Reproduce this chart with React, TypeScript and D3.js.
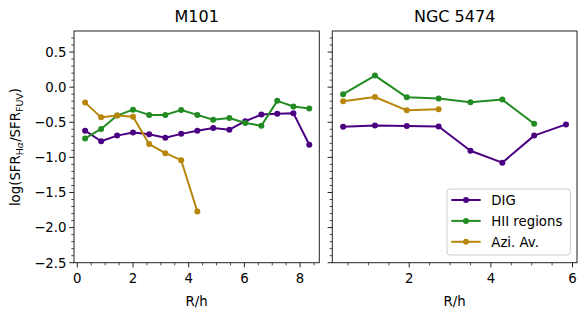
import * as d3 from "d3";
import React from "react";

// M101 (left panel)
const m101R = [0.28, 0.855, 1.43, 2.0, 2.58, 3.16, 3.73, 4.31, 4.88, 5.46, 6.03, 6.61, 7.18, 7.76, 8.33];
const m101Dig = [-0.62, -0.77, -0.69, -0.645, -0.67, -0.72, -0.665, -0.62, -0.58, -0.605, -0.485, -0.39, -0.38, -0.37, -0.82];
const m101Hii = [-0.73, -0.595, -0.405, -0.32, -0.395, -0.395, -0.325, -0.395, -0.465, -0.44, -0.51, -0.55, -0.195, -0.275, -0.305];
const m101Azi = [-0.22, -0.43, -0.405, -0.42, -0.81, -0.94, -1.04, -1.77];

// NGC 5474 (right panel)
const ngcR = [0.38, 1.16, 1.94, 2.72, 3.5, 4.28, 5.06, 5.84];
const ngcDig = [-0.565, -0.545, -0.552, -0.56, -0.905, -1.075, -0.69, -0.53];
const ngcHii = [-0.1, 0.165, -0.145, -0.16, -0.215, -0.177, -0.52];
const ngcAzi = [-0.2, -0.14, -0.33, -0.315];

const yTicks = [-2.5, -2.0, -1.5, -1.0, -0.5, 0.0, 0.5];
const leftXTicks = [0, 2, 4, 6, 8];
const rightXTicks = [2, 4, 6];

const colors = { dig: "#4b0082", hii: "#228b22", azi: "#b8860b" };
const legendItems = [
  { label: "DIG", color: colors.dig },
  { label: "HII regions", color: colors.hii },
  { label: "Azi. Av.", color: colors.azi },
];

const font = "DejaVu Sans, sans-serif";
const yTop = 31;
const yBottom = 262.7;
const y = d3.scaleLinear().domain([-2.5, 0.8]).range([yBottom, yTop]);

const fmt = (v: number) => (v < 0 ? "\u2212" + Math.abs(v).toFixed(1) : v.toFixed(1));

function Series({ xs, ys, x, color }: { xs: number[]; ys: number[]; x: d3.ScaleLinear<number, number>; color: string }) {
  const pts = ys.map((v, i) => [xs[i], v] as [number, number]);
  const line = d3.line<[number, number]>().x((d) => x(d[0])).y((d) => y(d[1]));
  return (
    <g>
      <path d={line(pts) || ""} fill="none" stroke={color} strokeWidth={2} strokeLinejoin="round" />
      {pts.map((d, i) => (
        <circle key={i} cx={x(d[0])} cy={y(d[1])} r={3} fill={color} />
      ))}
    </g>
  );
}

function Panel({
  x, title, xTicks, showYLabels, children,
}: {
  x: d3.ScaleLinear<number, number>; title: string; xTicks: number[]; showYLabels: boolean; children: React.ReactNode;
}) {
  const [x0, x1] = x.range();
  const [d0, d1] = x.domain();
  const xMinor = d3.range(Math.ceil(d0 * 2) / 2, d1, 0.5).filter((v) => !xTicks.some((t) => Math.abs(t - v) < 1e-6));
  const yMinor = d3.range(-25, 8).map((v) => v / 10).filter((v) => Math.abs(v * 2 - Math.round(v * 2)) > 1e-6);
  return (
    <g>
      {children}
      <rect x={x0} y={yTop} width={x1 - x0} height={yBottom - yTop} fill="none" stroke="#222" strokeWidth={1} />
      {xTicks.map((t) => (
        <g key={t}>
          <line x1={x(t)} x2={x(t)} y1={yBottom} y2={yBottom + 4.7} stroke="#222" />
          <text x={x(t)} y={yBottom + 20} textAnchor="middle" fontSize={13.3} fontFamily={font}>{t}</text>
        </g>
      ))}
      {xMinor.map((t) => (
        <line key={t} x1={x(t)} x2={x(t)} y1={yBottom} y2={yBottom + 2.7} stroke="#222" strokeWidth={0.8} />
      ))}
      {yTicks.map((t) => (
        <g key={t}>
          <line x1={x0} x2={x0 - 4.7} y1={y(t)} y2={y(t)} stroke="#222" />
          {showYLabels && (
            <text x={x0 - 7.5} y={y(t) + 4.8} textAnchor="end" fontSize={13.3} fontFamily={font}>{fmt(t)}</text>
          )}
        </g>
      ))}
      {yMinor.map((t) => (
        <line key={t} x1={x0} x2={x0 - 2.7} y1={y(t)} y2={y(t)} stroke="#222" strokeWidth={0.8} />
      ))}
      <text x={(x0 + x1) / 2} y={22} textAnchor="middle" fontSize={16} fontFamily={font}>{title}</text>
      <text x={(x0 + x1) / 2} y={306} textAnchor="middle" fontSize={13.3} fontFamily={font}>R/h</text>
    </g>
  );
}

export default function App() {
  const xL = d3.scaleLinear().domain([-0.119, 8.69]).range([74, 319.3]);
  const xR = d3.scaleLinear().domain([0.115, 6.11]).range([332.3, 577]);
  const lg = { x: 447, y: 189, w: 123.3, h: 66 };
  return (
    <svg width={588} height={314} style={{ position: "absolute", left: 0, top: 0, background: "#fff" }}>
      <Panel x={xL} title="M101" xTicks={leftXTicks} showYLabels={true}>
        <Series xs={m101R} ys={m101Dig} x={xL} color={colors.dig} />
        <Series xs={m101R} ys={m101Hii} x={xL} color={colors.hii} />
        <Series xs={m101R} ys={m101Azi} x={xL} color={colors.azi} />
      </Panel>
      <Panel x={xR} title="NGC 5474" xTicks={rightXTicks} showYLabels={false}>
        <Series xs={ngcR} ys={ngcDig} x={xR} color={colors.dig} />
        <Series xs={ngcR} ys={ngcHii} x={xR} color={colors.hii} />
        <Series xs={ngcR} ys={ngcAzi} x={xR} color={colors.azi} />
      </Panel>
      <g>
        <rect x={lg.x} y={lg.y} width={lg.w} height={lg.h} rx={3} fill="#fff" fillOpacity={0.8} stroke="#ccc" />
        {legendItems.map((d, i) => {
          const cy = 200 + i * 20.9;
          return (
            <g key={d.label}>
              <line x1={451.3} x2={480.7} y1={cy} y2={cy} stroke={d.color} strokeWidth={2} />
              <circle cx={466} cy={cy} r={3} fill={d.color} />
              <text x={491.3} y={cy + 4.8} fontSize={13.3} fontFamily={font}>{d.label}</text>
            </g>
          );
        })}
      </g>
      <text transform="translate(20,147) rotate(-90)" textAnchor="middle" fontSize={13.3} fontFamily={font}>
        log(SFR<tspan fontSize={9.5} dy={3}>H<tspan fontStyle="italic">α</tspan></tspan><tspan dy={-3}>/SFR</tspan><tspan fontSize={9.5} dy={3}>FUV</tspan><tspan dy={-3}>)</tspan>
      </text>
    </svg>
  );
}
